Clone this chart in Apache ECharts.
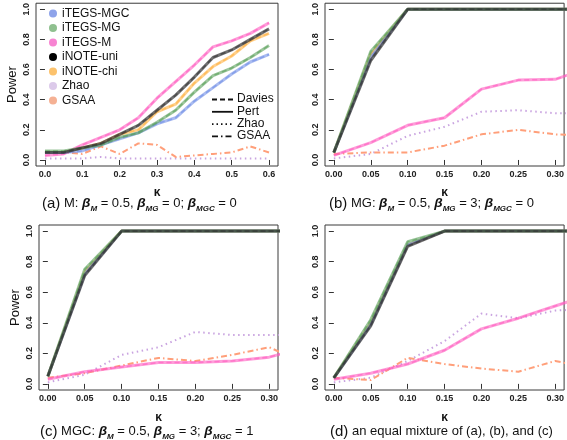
<!DOCTYPE html>
<html>
<head>
<meta charset="utf-8">
<script src="https://cdn.jsdelivr.net/npm/echarts@6/dist/echarts.min.js"></script>
<style>html,body{margin:0;padding:0;background:#fff}#c{width:567px;height:440px}</style>
</head>
<body>
<div id="c"></div>
<script>
// ---------- data ----------
const kA = [0, 0.05, 0.1, 0.15, 0.2, 0.25, 0.3, 0.35, 0.4, 0.45, 0.5, 0.55, 0.6];
const kB = [0, 0.05, 0.1, 0.15, 0.2, 0.25, 0.3, 0.35];
const xTicksA = [0, 0.1, 0.2, 0.3, 0.4, 0.5, 0.6];
const xTicksB = [0, 0.05, 0.1, 0.15, 0.2, 0.25, 0.3];
const yTicks = [0, 0.2, 0.4, 0.6, 0.8, 1.0];

const methods = ['iTEGS-MGC', 'iTEGS-MG', 'iTEGS-M', 'iNOTE-uni', 'iNOTE-chi', 'Zhao', 'GSAA'];

// panel (a)
const MGC_a = [0.05, 0.05, 0.06, 0.10, 0.14, 0.18, 0.24, 0.28, 0.39, 0.48, 0.57, 0.65, 0.70];
const MG_a  = [0.06, 0.06, 0.08, 0.10, 0.15, 0.18, 0.25, 0.33, 0.45, 0.56, 0.61, 0.68, 0.76];
const M_a   = [0.03, 0.04, 0.10, 0.15, 0.20, 0.28, 0.41, 0.52, 0.63, 0.75, 0.79, 0.84, 0.91];
const uni_a = [0.05, 0.05, 0.08, 0.11, 0.17, 0.23, 0.33, 0.43, 0.55, 0.68, 0.73, 0.80, 0.87];
const chi_a = [0.05, 0.05, 0.08, 0.11, 0.17, 0.20, 0.32, 0.37, 0.51, 0.62, 0.69, 0.79, 0.84];
const Zhao_a = [0.01, 0.01, 0.01, 0.02, 0.01, 0.01, 0.01, 0.01, 0.01, 0.01, 0.01, 0.01, 0.01];
const GSAA_a = [0.05, 0.05, 0.04, 0.09, 0.04, 0.11, 0.10, 0.02, 0.03, 0.04, 0.05, 0.09, 0.05];

// panel (b)
const MGC_b = [0.05, 0.68, 1, 1, 1, 1, 1, 1];
const MG_b  = [0.05, 0.72, 1, 1, 1, 1, 1, 1];
const M_b   = [0.03, 0.115, 0.23, 0.28, 0.47, 0.53, 0.535, 0.62];
const uni_b = [0.05, 0.66, 1, 1, 1, 1, 1, 1];
const chi_b = [0.05, 0.70, 1, 1, 1, 1, 1, 1];
const Zhao_b = [0.01, 0.04, 0.16, 0.22, 0.32, 0.33, 0.31, 0.31];
const GSAA_b = [0.04, 0.05, 0.05, 0.095, 0.17, 0.20, 0.17, 0.16];

// panel (c)
const MGC_c = [0.05, 0.72, 1, 1, 1, 1, 1, 1];
const MG_c  = [0.05, 0.75, 1, 1, 1, 1, 1, 1];
const M_c   = [0.03, 0.08, 0.11, 0.14, 0.14, 0.15, 0.175, 0.24];
const uni_c = [0.05, 0.71, 1, 1, 1, 1, 1, 1];
const chi_c = [0.05, 0.73, 1, 1, 1, 1, 1, 1];
const Zhao_c = [0.01, 0.06, 0.19, 0.24, 0.34, 0.32, 0.32, 0.32];
const GSAA_c = [0.04, 0.07, 0.12, 0.17, 0.15, 0.19, 0.24, 0.13];

// panel (d)
const MGC_d = [0.04, 0.39, 0.91, 1, 1, 1, 1, 1];
const MG_d  = [0.04, 0.42, 0.93, 1, 1, 1, 1, 1];
const M_d   = [0.03, 0.07, 0.13, 0.22, 0.36, 0.43, 0.51, 0.59];
const uni_d = [0.04, 0.38, 0.90, 1, 1, 1, 1, 1];
const chi_d = [0.04, 0.40, 0.91, 1, 1, 1, 1, 1];
const Zhao_d = [0.01, 0.04, 0.15, 0.28, 0.46, 0.43, 0.48, 0.49];
const GSAA_d = [0.04, 0.025, 0.17, 0.13, 0.10, 0.08, 0.15, 0.10];

// ---------- styles ----------
const lineColors = {
  'iTEGS-MGC': '#6f8ee6', 'iTEGS-MG': '#5aa05a', 'iTEGS-M': '#ff5cc0',
  'iNOTE-uni': '#333333', 'iNOTE-chi': '#ffb040', 'Zhao': '#c9a3e0', 'GSAA': '#ff9f7a'
};
const dotColors = {
  'iTEGS-MGC': '#8ea3ea', 'iTEGS-MG': '#8fc08f', 'iTEGS-M': '#f784d2',
  'iNOTE-uni': '#000000', 'iNOTE-chi': '#fcc26c', 'Zhao': '#dccaea', 'GSAA': '#f5b194'
};
const FONT = '"Liberation Sans", Arial, Helvetica, sans-serif';

const panels = [
  { k: kA, d: { 'iTEGS-MGC': MGC_a, 'iTEGS-MG': MG_a, 'iTEGS-M': M_a, 'iNOTE-uni': uni_a, 'iNOTE-chi': chi_a, 'Zhao': Zhao_a, 'GSAA': GSAA_a } },
  { k: kB, d: { 'iTEGS-MGC': MGC_b, 'iTEGS-MG': MG_b, 'iTEGS-M': M_b, 'iNOTE-uni': uni_b, 'iNOTE-chi': chi_b, 'Zhao': Zhao_b, 'GSAA': GSAA_b } },
  { k: kB, d: { 'iTEGS-MGC': MGC_c, 'iTEGS-MG': MG_c, 'iTEGS-M': M_c, 'iNOTE-uni': uni_c, 'iNOTE-chi': chi_c, 'Zhao': Zhao_c, 'GSAA': GSAA_c } },
  { k: kB, d: { 'iTEGS-MGC': MGC_d, 'iTEGS-MG': MG_d, 'iTEGS-M': M_d, 'iNOTE-uni': uni_d, 'iNOTE-chi': chi_d, 'Zhao': Zhao_d, 'GSAA': GSAA_d } }
];

const grids = [
  { left: 36, top: 0.5, width: 242, height: 165.5 },
  { left: 325, top: 0.5, width: 241, height: 165.5 },
  { left: 39, top: 225, width: 239, height: 165 },
  { left: 325, top: 225, width: 241, height: 165 }
].map(g => Object.assign(g, { show: true, borderColor: '#3a3a3a', borderWidth: 1, backgroundColor: '#fff' }));

const xAxes = [], yAxes = [], series = [];
panels.forEach((p, i) => {
  const isA = i === 0;
  const ticks = isA ? xTicksA : xTicksB;
  xAxes.push({
    gridIndex: i, type: 'value',
    min: isA ? -0.024 : -0.012, max: isA ? 0.624 : 0.312,
    axisLine: { show: false }, splitLine: { show: false },
    axisTick: { show: true, length: 5, customValues: ticks, lineStyle: { color: '#333' } },
    axisLabel: { customValues: ticks, formatter: v => v.toFixed(isA ? 1 : 2), fontSize: 9, fontWeight: 'bold', color: '#222', margin: 4, fontFamily: FONT },
    name: 'κ', nameLocation: 'middle', nameGap: i < 2 ? 21 : 22,
    nameTextStyle: { fontSize: 12, fontWeight: 'bold', color: '#111', fontFamily: FONT }
  });
  yAxes.push({
    gridIndex: i, type: 'value', min: -0.04, max: 1.04,
    axisLine: { show: false }, splitLine: { show: false },
    axisTick: { show: true, length: 5, customValues: yTicks, lineStyle: { color: '#333' } },
    axisLabel: { customValues: yTicks, formatter: v => v.toFixed(1), rotate: 90, fontSize: 9, fontWeight: 'bold', color: '#222', margin: 5, fontFamily: FONT },
    name: (i === 0 || i === 2) ? 'Power' : '', nameLocation: 'middle', nameGap: 17,
    nameTextStyle: { fontSize: 13, color: '#111', fontFamily: FONT }
  });
  const order = ['Zhao', 'GSAA', 'iNOTE-chi', 'iTEGS-M', 'iTEGS-MGC', 'iTEGS-MG', 'iNOTE-uni'];
  order.forEach(name => {
    const data = p.k.map((x, j) => [x, p.d[name][j]]);
    const c = lineColors[name];
    const base = { name, type: 'line', xAxisIndex: i, yAxisIndex: i, data, showSymbol: false, symbol: 'none', silent: true, animation: false, clip: true };
    if (name === 'Zhao') {
      series.push(Object.assign({}, base, { lineStyle: { color: c, width: 2, type: [1.5, 3.5] }, itemStyle: { color: c } }));
    } else if (name === 'GSAA') {
      series.push(Object.assign({}, base, { lineStyle: { color: c, width: 2, type: [6, 3, 1.5, 3] }, itemStyle: { color: c } }));
    } else {
      const op = name === 'iNOTE-uni' ? 0.7 : 0.6;
      // Pert (solid) and Davies (dashed)
      series.push(Object.assign({}, base, { lineStyle: { color: c, width: 3, opacity: op } }));
      series.push(Object.assign({}, base, { lineStyle: { color: c, width: 1.6, opacity: 0.6, type: [5, 3] } }));
    }
  });
});

function caption(x, y, label, parts) {
  return {
    type: 'text', left: x, top: y,
    style: {
      text: '{p|' + label + '}' + parts,
      fontFamily: FONT,
      rich: {
        p: { fontSize: 15, fill: '#111', fontFamily: FONT, lineHeight: 18, verticalAlign: 'middle' },
        t: { fontSize: 13, fill: '#111', fontFamily: FONT, lineHeight: 18, verticalAlign: 'middle' },
        b: { fontSize: 13.5, fill: '#111', fontStyle: 'italic', fontWeight: 'bold', fontFamily: FONT, lineHeight: 18, verticalAlign: 'middle' },
        s: { fontSize: 8, fill: '#111', fontStyle: 'italic', fontWeight: 'bold', fontFamily: FONT, lineHeight: 18, verticalAlign: 'bottom' }
      }
    }
  };
}

const ltLegend = [
  { label: 'Davies', dash: [5, 3] },
  { label: 'Pert', dash: null },
  { label: 'Zhao', dash: [1.5, 3] },
  { label: 'GSAA', dash: [6, 3, 1.5, 3] }
];
const graphics = [];
ltLegend.forEach((l, i) => {
  const y = 99.5 + i * 12.3;
  graphics.push({ type: 'line', shape: { x1: 212, y1: y, x2: 233, y2: y }, style: { stroke: '#111', lineWidth: 1.8, lineDash: l.dash } });
  graphics.push({ type: 'text', left: 237, top: y - 6.5, style: { text: l.label, fontSize: 12, fill: '#111', fontFamily: FONT } });
});
graphics.push(caption(42, 196, '(a)', '{t| M: }{b|β}{s|M}{t| = 0.5, }{b|β}{s|MG}{t| = 0; }{b|β}{s|MGC}{t| = 0}'));
graphics.push(caption(329, 196, '(b)', '{t| MG: }{b|β}{s|M}{t| = 0.5, }{b|β}{s|MG}{t| = 3; }{b|β}{s|MGC}{t| = 0}'));
graphics.push(caption(40, 424, '(c)', '{t| MGC: }{b|β}{s|M}{t| = 0.5, }{b|β}{s|MG}{t| = 3; }{b|β}{s|MGC}{t| = 1}'));
graphics.push(caption(330, 424, '(d)', '{t| an equal mixture of (a), (b), and (c)}'));

const chart = echarts.init(document.getElementById('c'), null, { renderer: 'canvas' });
chart.setOption({
  animation: false,
  backgroundColor: '#fff',
  grid: grids, xAxis: xAxes, yAxis: yAxes, series,
  legend: {
    left: 44, top: 2, orient: 'vertical', icon: 'circle', itemWidth: 8, itemHeight: 8, itemGap: 1.5,
    selectedMode: false,
    textStyle: { fontSize: 12, color: '#111', fontFamily: FONT, lineHeight: 13 },
    data: methods.map(m => ({ name: m, itemStyle: { color: dotColors[m], opacity: 1 } }))
  },
  graphic: graphics
});
</script>
</body>
</html>
